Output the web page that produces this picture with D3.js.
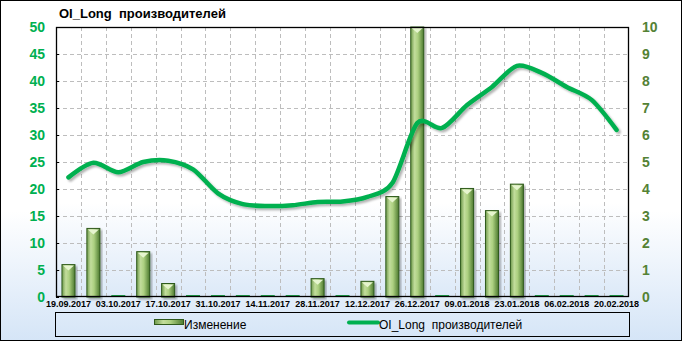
<!DOCTYPE html>
<html>
<head>
<meta charset="utf-8">
<script src="https://cdn.jsdelivr.net/npm/d3@7"></script>
<style>
  html, body { margin: 0; padding: 0; background: #fff; }
  svg { display: block; }
  text { font-family: "Liberation Sans", Arial, sans-serif; }
</style>
</head>
<body>
<svg id="chart" width="682" height="341"></svg>
<script>
// weekly report dates
const dates = ['19.09.2017', '26.09.2017', '03.10.2017', '10.10.2017', '17.10.2017', '24.10.2017',
  '31.10.2017', '07.11.2017', '14.11.2017', '21.11.2017', '28.11.2017', '05.12.2017',
  '12.12.2017', '19.12.2017', '26.12.2017', '02.01.2018', '09.01.2018', '16.01.2018',
  '23.01.2018', '30.01.2018', '06.02.2018', '13.02.2018', '20.02.2018'];

// bars, left axis
const change = [6, 12.7, 0, 8.4, 2.5, 0, 0, 0, 0, 0, 3.4, 0, 2.9, 18.6, 50, 0, 20.1, 16.0, 20.9, 0, 0, 0, 0];

// line, right axis
const oiLong = [4.43, 4.97, 4.62, 5.0, 5.05, 4.73, 3.84, 3.44, 3.37, 3.40, 3.52, 3.54, 3.71, 4.22,
  6.44, 6.26, 7.11, 7.78, 8.56, 8.30, 7.78, 7.30, 6.19];

const leftTicks = [0, 5, 10, 15, 20, 25, 30, 35, 40, 45, 50];
const rightTicks = [0, 1, 2, 3, 4, 5, 6, 7, 8, 9, 10];

const title = 'OI_Long  производителей';
const barLabel = 'Изменение';
const lineLabel = 'OI_Long  производителей';

const W = 682, H = 341;
const margin = { top: 27, right: 53, bottom: 44, left: 56 };
const x0 = margin.left, x1 = W - margin.right, y0 = H - margin.bottom, y1 = margin.top;

const svg = d3.select('#chart');
const defs = svg.append('defs');

const bg = defs.append('linearGradient').attr('id', 'bg').attr('x1', 0).attr('y1', 0).attr('x2', 0).attr('y2', 1);
bg.append('stop').attr('offset', '0%').attr('stop-color', '#ffffff');
bg.append('stop').attr('offset', '62%').attr('stop-color', '#ffffff');
bg.append('stop').attr('offset', '100%').attr('stop-color', '#d5e5f7');

const plotBg = defs.append('linearGradient').attr('id', 'plotbg').attr('x1', 0).attr('y1', 0).attr('x2', 0).attr('y2', 1);
plotBg.append('stop').attr('offset', '0%').attr('stop-color', '#ffffff');
plotBg.append('stop').attr('offset', '65%').attr('stop-color', '#ffffff');
plotBg.append('stop').attr('offset', '100%').attr('stop-color', '#dce9f8');

const barGrad = defs.append('linearGradient').attr('id', 'bar').attr('x1', 0).attr('y1', 0).attr('x2', 1).attr('y2', 0);
barGrad.append('stop').attr('offset', '0%').attr('stop-color', '#6f9a4c');
barGrad.append('stop').attr('offset', '30%').attr('stop-color', '#c2dd9c');
barGrad.append('stop').attr('offset', '55%').attr('stop-color', '#acd080');
barGrad.append('stop').attr('offset', '100%').attr('stop-color', '#4d7a30');

const shadow = defs.append('filter').attr('id', 'shadow').attr('x', '-10%').attr('y', '-10%').attr('width', '130%').attr('height', '130%');
shadow.append('feDropShadow').attr('dx', 2).attr('dy', 2).attr('stdDeviation', 1.2)
  .attr('flood-color', '#000').attr('flood-opacity', 0.3);

// outer frame
svg.append('rect')
  .attr('x', 0.5).attr('y', 0.5).attr('width', W - 1).attr('height', H - 1)
  .attr('fill', 'url(#bg)').attr('stroke', '#000');

svg.append('rect')
  .attr('x', x0).attr('y', y1).attr('width', x1 - x0).attr('height', y0 - y1)
  .attr('fill', 'url(#plotbg)');

svg.append('text')
  .attr('x', 59).attr('y', 18)
  .attr('font-size', 13).attr('font-weight', 'bold')
  .style('white-space', 'pre')
  .text(title);

const xScale = d3.scaleBand().domain(dates).range([x0, x1]).paddingInner(0).paddingOuter(0);
const yLeft = d3.scaleLinear().domain([0, 50]).range([y0, y1]);
const yRight = d3.scaleLinear().domain([0, 10]).range([y0, y1]);

// grid
const grid = svg.append('g').attr('stroke', '#bdbdbd').attr('stroke-dasharray', '4,3').attr('stroke-width', 1);
grid.selectAll('line.h').data(leftTicks.slice(1, -1)).join('line')
  .attr('class', 'h')
  .attr('x1', x0).attr('x2', x1)
  .attr('y1', d => Math.round(yLeft(d)) + 0.5).attr('y2', d => Math.round(yLeft(d)) + 0.5);
grid.selectAll('line.v').data(dates.slice(1)).join('line')
  .attr('class', 'v')
  .attr('x1', d => Math.round(xScale(d)) + 0.5).attr('x2', d => Math.round(xScale(d)) + 0.5)
  .attr('y1', y1).attr('y2', y0);

// bars
const bw = 13;
const bars = svg.append('g');
const barG = bars.selectAll('g').data(dates).join('g');
barG.each(function (d, i) {
  const g = d3.select(this);
  const cx = xScale(d) + xScale.bandwidth() / 2;
  const v = change[i];
  if (v <= 0) {
    g.append('rect')
      .attr('x', cx - 7).attr('y', y0 - 2).attr('width', 14).attr('height', 2)
      .attr('fill', '#1fa14a');
    return;
  }
  const top = yLeft(v);
  g.append('rect')
    .attr('x', cx - bw / 2).attr('y', top).attr('width', bw).attr('height', y0 - top)
    .attr('fill', 'url(#bar)').attr('stroke', '#2f5a1c').attr('stroke-width', 1)
    .attr('filter', 'url(#shadow)');
  g.append('path')
    .attr('d', `M${cx - bw / 2 + 1},${top + 1}L${cx + bw / 2 - 1},${top + 1}L${cx},${top + 6}Z`)
    .attr('fill', '#e6f5cf');
});

// plot frame
svg.append('rect')
  .attr('x', x0 + 0.5).attr('y', y1 + 0.5).attr('width', x1 - x0 - 1).attr('height', y0 - y1 - 1)
  .attr('fill', 'none').attr('stroke', '#000').attr('stroke-width', 1.3);

// line
const lineGen = d3.line()
  .x((_, i) => xScale(dates[i]) + xScale.bandwidth() / 2)
  .y(d => yRight(d))
  .curve(d3.curveCardinal.tension(0.15));

svg.append('path')
  .datum(oiLong)
  .attr('d', lineGen)
  .attr('fill', 'none')
  .attr('stroke', '#00b050')
  .attr('stroke-width', 4.5)
  .attr('stroke-linecap', 'round')
  .attr('filter', 'url(#shadow)');

// axes
const leftAxis = svg.append('g')
  .attr('transform', `translate(${x0},0)`)
  .call(d3.axisLeft(yLeft).tickValues(leftTicks).tickSize(-3).tickPadding(11));
leftAxis.select('.domain').remove();
leftAxis.selectAll('line').attr('stroke', '#000');
leftAxis.selectAll('text')
  .attr('fill', '#00b050').attr('font-size', 14).attr('font-weight', 'bold')
  .attr('font-family', '"Liberation Sans", Arial, sans-serif');

const rightAxis = svg.append('g')
  .attr('transform', `translate(${x1},0)`)
  .call(d3.axisRight(yRight).tickValues(rightTicks).tickSize(0).tickPadding(13));
rightAxis.select('.domain').remove();
rightAxis.selectAll('text')
  .attr('fill', '#548235').attr('font-size', 14).attr('font-weight', 'bold')
  .attr('font-family', '"Liberation Sans", Arial, sans-serif');

const xAxis = svg.append('g')
  .attr('transform', `translate(0,${y0})`)
  .call(d3.axisBottom(xScale).tickValues(dates.filter((_, i) => i % 2 === 0)).tickSize(0).tickPadding(4));
xAxis.select('.domain').remove();
xAxis.selectAll('text')
  .attr('fill', '#000').attr('font-size', 9).attr('font-weight', 'bold')
  .attr('font-family', '"Liberation Sans", Arial, sans-serif');

// legend
const legend = svg.append('g');
legend.append('rect')
  .attr('x', 55.5).attr('y', 312.5).attr('width', 574).attr('height', 24)
  .attr('fill', 'none').attr('stroke', '#000');
legend.append('rect')
  .attr('x', 154.5).attr('y', 319.5).attr('width', 29).attr('height', 5)
  .attr('fill', 'url(#bar)').attr('stroke', '#2f5a1c');
legend.append('text')
  .attr('x', 184).attr('y', 329).attr('font-size', 12)
  .text(barLabel);
legend.append('line')
  .attr('x1', 349).attr('x2', 378).attr('y1', 322.5).attr('y2', 322.5)
  .attr('stroke', '#00b050').attr('stroke-width', 4).attr('stroke-linecap', 'round');
legend.append('text')
  .attr('x', 379).attr('y', 329).attr('font-size', 12)
  .style('white-space', 'pre')
  .text(lineLabel);
</script>
</body>
</html>
